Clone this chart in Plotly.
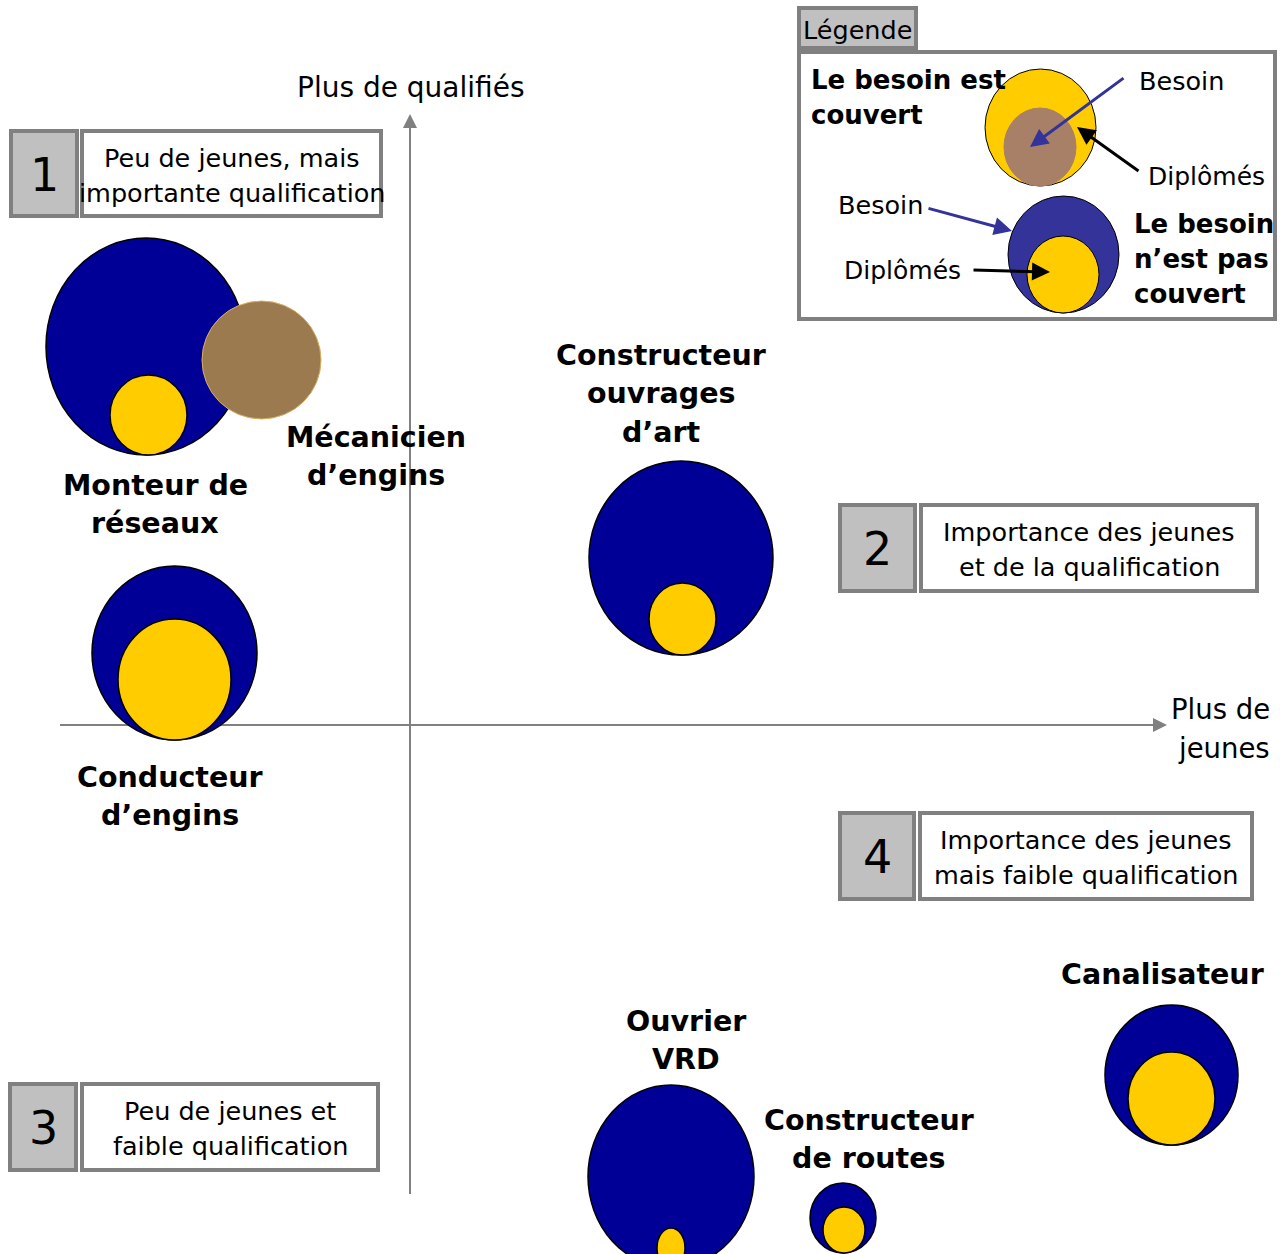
import plotly.graph_objects as go

# --- Data (in page pixel units) ---
metiers = ["Monteur de réseaux", "Conducteur d'engins", "Constructeur ouvrages d'art",
           "Ouvrier VRD", "Constructeur de routes", "Canalisateur"]
# besoin (need) circle bounds
besoin_x0 = [46, 92, 589, 588, 810, 1105]
besoin_x1 = [246, 257, 773, 754, 876, 1238]
besoin_y0 = [238, 566, 461, 1085, 1183, 1005]
besoin_y1 = [455, 740, 655, 1268, 1253, 1145]
# diplomes (graduates) circle bounds
dipl_x0 = [110, 118, 649, 657, 823, 1128]
dipl_x1 = [187, 231, 716, 685, 865, 1215]
dipl_y0 = [375, 619, 583, 1228, 1207, 1052]
dipl_y1 = [455, 740, 655, 1268, 1253, 1145]

# Mécanicien d'engins: only the covered-need circle
meca_bounds = [202, 321, 301, 419]

labels = ["Monteur de|réseaux", "Mécanicien|d’engins", "Conducteur|d’engins",
          "Constructeur|ouvrages|d’art", "Ouvrier|VRD", "Constructeur|de routes",
          "Canalisateur"]
labels_x = [155, 376, 170, 661, 686, 869, 1162]
labels_y = [485, 437, 777, 355, 1021, 1120, 974]

quadrant_num = ["1", "2", "3", "4"]
quadrant_txt = ["Peu de jeunes, mais|importante qualification",
                "Importance des jeunes|et de la qualification",
                "Peu de jeunes et|faible qualification",
                "Importance des jeunes|mais faible qualification"]
num_box = [(11, 77, 131, 216), (840, 915, 505, 591), (10, 76, 1084, 1170), (840, 914, 813, 899)]
txt_box = [(82, 381, 131, 216), (921, 1257, 505, 591), (82, 378, 1084, 1170), (920, 1252, 813, 899)]

BLUE = "#000096"
YELLOW = "#FFCC00"
BROWN = "#9C7A50"
GRAY = "#808080"
LGRAY = "#C0C0C0"
FONT = "DejaVu Sans"

W, H = 1280, 1254

fig = go.Figure()
fig.add_trace(go.Scatter(x=[0, W], y=[0, H], mode="markers", marker=dict(opacity=0),
                         hoverinfo="skip", showlegend=False))

shapes = []
annotations = []


def add_lines(text, x, y, spacing, size, bold=False, xanchor="center"):
    for k, line in enumerate(text.split("|")):
        t = "<b>" + line + "</b>" if bold else line
        annotations.append(dict(x=x, y=y + k * spacing, text=t, showarrow=False,
                                xanchor=xanchor, yanchor="middle",
                                font=dict(size=size, color="black", family=FONT)))


# axes
shapes.append(dict(type="line", x0=410, x1=410, y0=1194, y1=130, line=dict(color=GRAY, width=2)))
shapes.append(dict(type="line", x0=60, x1=1150, y0=725, y1=725, line=dict(color=GRAY, width=2)))
annotations.append(dict(x=410, y=114, ax=410, ay=140, xref="x", yref="y", axref="x", ayref="y",
                        text="", showarrow=True, arrowhead=2, arrowsize=1.4, arrowwidth=2,
                        arrowcolor=GRAY))
annotations.append(dict(x=1167, y=725, ax=1140, ay=725, xref="x", yref="y", axref="x", ayref="y",
                        text="", showarrow=True, arrowhead=2, arrowsize=1.4, arrowwidth=2,
                        arrowcolor=GRAY))

# quadrant boxes
for i in range(4):
    a = num_box[i]
    shapes.append(dict(type="rect", x0=a[0], x1=a[1], y0=a[2], y1=a[3],
                       fillcolor=LGRAY, line=dict(color=GRAY, width=4)))
    b = txt_box[i]
    shapes.append(dict(type="rect", x0=b[0], x1=b[1], y0=b[2], y1=b[3],
                       fillcolor="white", line=dict(color=GRAY, width=4)))
    annotations.append(dict(x=(a[0] + a[1]) / 2, y=(a[2] + a[3]) / 2 + 1, text=quadrant_num[i],
                            showarrow=False, font=dict(size=46, color="black", family=FONT)))
    add_lines(quadrant_txt[i], (b[0] + b[1]) / 2, (b[2] + b[3]) / 2 - 16, 35, 25.5)

# metier circles
for i in range(len(metiers)):
    shapes.append(dict(type="circle", x0=besoin_x0[i], x1=besoin_x1[i],
                       y0=besoin_y0[i], y1=besoin_y1[i],
                       fillcolor=BLUE, line=dict(color="black", width=1.5)))
    shapes.append(dict(type="circle", x0=dipl_x0[i], x1=dipl_x1[i],
                       y0=dipl_y0[i], y1=dipl_y1[i],
                       fillcolor=YELLOW, line=dict(color="black", width=1.5)))
    if i == 0:
        shapes.append(dict(type="circle", x0=meca_bounds[0], x1=meca_bounds[1],
                           y0=meca_bounds[2], y1=meca_bounds[3],
                           fillcolor=BROWN, line=dict(color="#D8B060", width=1)))

for t, x, y in zip(labels, labels_x, labels_y):
    add_lines(t, x, y, 38.5, 28.5, bold=True)

# axis titles
add_lines("Plus de qualifiés", 411, 87, 0, 28)
add_lines("Plus de|jeunes", 1272, 709, 39, 27.5, xanchor="right")

# legend
shapes.append(dict(type="rect", x0=799, x1=1275, y0=52, y1=319, fillcolor="white",
                   line=dict(color=GRAY, width=4)))
shapes.append(dict(type="rect", x0=799, x1=916, y0=8, y1=48, fillcolor=LGRAY,
                   line=dict(color=GRAY, width=4)))
add_lines("Légende", 857, 30, 0, 25.5)
shapes.append(dict(type="circle", x0=985, x1=1096, y0=69, y1=186, fillcolor=YELLOW,
                   line=dict(color="black", width=1)))
shapes.append(dict(type="circle", x0=1004, x1=1076, y0=108, y1=186, fillcolor="#A88068",
                   line=dict(color="#A88068", width=1)))
shapes.append(dict(type="circle", x0=1008, x1=1119, y0=196, y1=313, fillcolor="#333399",
                   line=dict(color="black", width=1)))
shapes.append(dict(type="circle", x0=1027, x1=1099, y0=236, y1=313, fillcolor=YELLOW,
                   line=dict(color="black", width=1)))

legend_arrows = [(1030, 147, 1125, 77, "#333399"), (1077, 127, 1140, 172, "black"),
                 (1012, 231, 927, 208, "#333399"), (1050, 272, 972, 270, "black")]
for x, y, ax, ay, c in legend_arrows:
    annotations.append(dict(x=x, y=y, ax=ax, ay=ay, xref="x", yref="y", axref="x", ayref="y",
                            text="", showarrow=True, arrowhead=2, arrowsize=1.2, arrowwidth=3,
                            arrowcolor=c))

add_lines("Le besoin est|couvert", 809, 80, 35, 26, bold=True, xanchor="left")
add_lines("Le besoin|n’est pas|couvert", 1132, 224, 35, 26, bold=True, xanchor="left")
add_lines("Besoin", 1137, 81, 0, 25.5, xanchor="left")
add_lines("Diplômés", 1146, 176, 0, 25, xanchor="left")
add_lines("Besoin", 925, 205, 0, 25.5, xanchor="right")
add_lines("Diplômés", 963, 270, 0, 25, xanchor="right")

fig.update_layout(
    width=W, height=H,
    margin=dict(l=0, r=0, t=0, b=0),
    plot_bgcolor="white", paper_bgcolor="white",
    shapes=shapes, annotations=annotations,
    showlegend=False,
)
fig.update_xaxes(range=[0, W], visible=False, fixedrange=True)
fig.update_yaxes(range=[H, 0], visible=False, fixedrange=True)

# drop the default page margin so the figure sits at the top-left corner
fig.write_html("out.html", config={"displayModeBar": False},
               post_script="document.body.style.margin='0';")
